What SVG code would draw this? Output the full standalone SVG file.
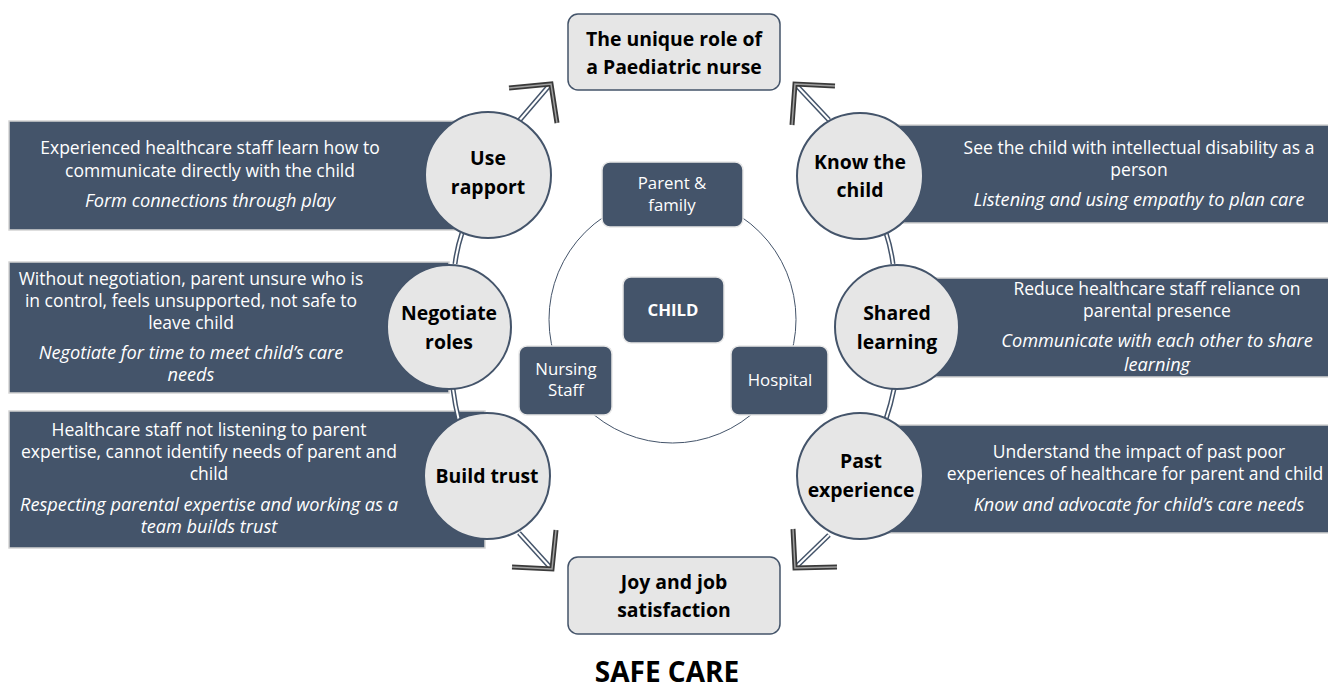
<svg xmlns="http://www.w3.org/2000/svg" width="1328" height="688" viewBox="0 0 1328 688">
<style>
.panel{fill:#44546a;stroke:#d4d4d4;stroke-width:1.5}
.circ{fill:#e6e6e6;stroke:#44546a;stroke-width:2}
.box{fill:#e6e6e6;stroke:#44546a;stroke-width:1.5}
.cbox{fill:#44546a;stroke:#e8e8e8;stroke-width:1.5}
.pt{font-family:"Open Sans","Liberation Sans",sans-serif;font-size:17.5px;fill:#ffffff;text-anchor:middle}
.it{font-style:italic;font-size:18.2px}
.ct{font-family:"Open Sans","Liberation Sans",sans-serif;font-size:19.4px;font-weight:bold;fill:#000000;text-anchor:middle}
.wt{font-family:"Open Sans","Liberation Sans",sans-serif;font-size:16.8px;fill:#ffffff;text-anchor:middle}
.shaftO{fill:none;stroke:#44546a;stroke-width:5;stroke-linecap:butt}
.shaftI{fill:none;stroke:#ffffff;stroke-width:2;stroke-linecap:butt}
.headO{fill:none;stroke:#3a3a3a;stroke-width:5;stroke-linejoin:miter;stroke-linecap:butt}
.headI{fill:none;stroke:#a0a0a0;stroke-width:1.5;stroke-linejoin:miter}
</style>
<rect width="1328" height="688" fill="#ffffff"/>

<g id="panels">
<rect id="panel-l1" class="panel" x="9" y="121" width="470" height="109"/>
<rect id="panel-l2" class="panel" x="9" y="262" width="440" height="131"/>
<rect id="panel-l3" class="panel" x="9" y="411" width="476" height="137"/>
<rect id="panel-r1" class="panel" x="870" y="125" width="460" height="98"/>
<rect id="panel-r2" class="panel" x="900" y="278" width="430" height="99"/>
<rect id="panel-r3" class="panel" x="870" y="425" width="460" height="108"/>
</g>

<g id="connectors">
<circle cx="672.5" cy="319.5" r="123.5" fill="none" stroke="#44546a" stroke-width="1"/>
<path class="shaftO" d="M462,233 Q457,248 455,264"/>
<path class="shaftI" d="M462,233 Q457,248 455,264"/>
<path class="shaftO" d="M453,389 Q455,405 459,421"/>
<path class="shaftI" d="M453,389 Q455,405 459,421"/>
<path class="shaftO" d="M886,233 Q891,248 893,264"/>
<path class="shaftI" d="M886,233 Q891,248 893,264"/>
<path class="shaftO" d="M894,389 Q891,404 886,419"/>
<path class="shaftI" d="M894,389 Q891,404 886,419"/>

<path class="shaftO" d="M518,122 L548,87"/>
<path class="shaftI" d="M518,122 L548,87"/>
<polyline class="headO" points="509,88 551,84 557,123"/>
<polyline class="headI" points="509,88 551,84 557,123"/>

<path class="shaftO" d="M829,120 L798,87"/>
<path class="shaftI" d="M829,120 L798,87"/>
<polyline class="headO" points="835,86 795,84 792,125"/>
<polyline class="headI" points="835,86 795,84 792,125"/>

<path class="shaftO" d="M519,533 L549,566"/>
<path class="shaftI" d="M519,533 L549,566"/>
<polyline class="headO" points="556,530 552,569 512,567"/>
<polyline class="headI" points="556,530 552,569 512,567"/>

<path class="shaftO" d="M829,535 L798,565"/>
<path class="shaftI" d="M829,535 L798,565"/>
<polyline class="headO" points="793,529 795,568 837,567"/>
<polyline class="headI" points="793,529 795,568 837,567"/>
</g>

<g id="panel-texts">
<text class="pt" x="210" y="154">Experienced healthcare staff learn how to</text>
<text class="pt" x="210" y="177">communicate directly with the child</text>
<text class="pt it" x="210" y="207">Form connections through play</text>

<text class="pt" x="191" y="285">Without negotiation, parent unsure who is</text>
<text class="pt" x="191" y="307">in control, feels unsupported, not safe to</text>
<text class="pt" x="191" y="329">leave child</text>
<text class="pt it" x="191" y="359">Negotiate for time to meet child’s care</text>
<text class="pt it" x="191" y="381">needs</text>

<text class="pt" x="209" y="436">Healthcare staff not listening to parent</text>
<text class="pt" x="209" y="458">expertise, cannot identify needs of parent and</text>
<text class="pt" x="209" y="480">child</text>
<text class="pt it" x="209" y="511">Respecting parental expertise and working as a</text>
<text class="pt it" x="209" y="533">team builds trust</text>

<text class="pt" x="1139" y="154">See the child with intellectual disability as a</text>
<text class="pt" x="1139" y="176">person</text>
<text class="pt it" x="1139" y="206">Listening and using empathy to plan care</text>

<text class="pt" x="1157" y="295">Reduce healthcare staff reliance on</text>
<text class="pt" x="1157" y="317">parental presence</text>
<text class="pt it" x="1157" y="347">Communicate with each other to share</text>
<text class="pt it" x="1157" y="371">learning</text>

<text class="pt" x="1139" y="458">Understand the impact of past poor</text>
<text class="pt" x="1135" y="480">experiences of healthcare for parent and child</text>
<text class="pt it" x="1139" y="511">Know and advocate for child’s care needs</text>
</g>

<g id="node-use-rapport">
<circle class="circ" cx="488" cy="175" r="63"/>
<text class="ct" x="488" y="165">Use</text>
<text class="ct" x="488" y="194">rapport</text>
</g>
<g id="node-negotiate-roles">
<circle class="circ" cx="449" cy="327" r="62"/>
<text class="ct" x="449" y="320">Negotiate</text>
<text class="ct" x="449" y="349">roles</text>
</g>
<g id="node-build-trust">
<circle class="circ" cx="487" cy="476" r="63"/>
<text class="ct" x="487" y="483">Build trust</text>
</g>
<g id="node-know-child">
<circle class="circ" cx="860" cy="176" r="63"/>
<text class="ct" x="860" y="169">Know the</text>
<text class="ct" x="860" y="197">child</text>
</g>
<g id="node-shared-learning">
<circle class="circ" cx="897" cy="327" r="62"/>
<text class="ct" x="897" y="320">Shared</text>
<text class="ct" x="897" y="349">learning</text>
</g>
<g id="node-past-experience">
<circle class="circ" cx="860" cy="476" r="63"/>
<text class="ct" x="861" y="468">Past</text>
<text class="ct" x="861" y="497">experience</text>
</g>

<g id="node-top">
<rect class="box" x="568" y="14" width="212" height="76" rx="10"/>
<text class="ct" x="674" y="46">The unique role of</text>
<text class="ct" x="674" y="74">a Paediatric nurse</text>
</g>
<g id="node-bottom">
<rect class="box" x="568" y="557" width="212" height="77" rx="10"/>
<text class="ct" x="674" y="589">Joy and job</text>
<text class="ct" x="674" y="617">satisfaction</text>
</g>

<g id="node-parent">
<rect class="cbox" x="602" y="162" width="141" height="65" rx="8"/>
<text class="wt" x="672" y="189">Parent &amp;</text>
<text class="wt" x="672" y="211">family</text>
</g>
<g id="node-child">
<rect class="cbox" x="623" y="277" width="101" height="66" rx="8"/>
<text class="wt" x="673" y="316" font-weight="bold" font-size="18.5">CHILD</text>
</g>
<g id="node-nursing">
<rect class="cbox" x="519" y="346" width="93" height="69" rx="8"/>
<text class="wt" x="566" y="375">Nursing</text>
<text class="wt" x="566" y="396">Staff</text>
</g>
<g id="node-hospital">
<rect class="cbox" x="731" y="346" width="97" height="69" rx="8"/>
<text class="wt" x="780" y="386">Hospital</text>
</g>

<text x="667" y="682" font-family="'Open Sans','Liberation Sans',sans-serif" font-size="28" font-weight="bold" fill="#000000" text-anchor="middle">SAFE CARE</text>
</svg>
